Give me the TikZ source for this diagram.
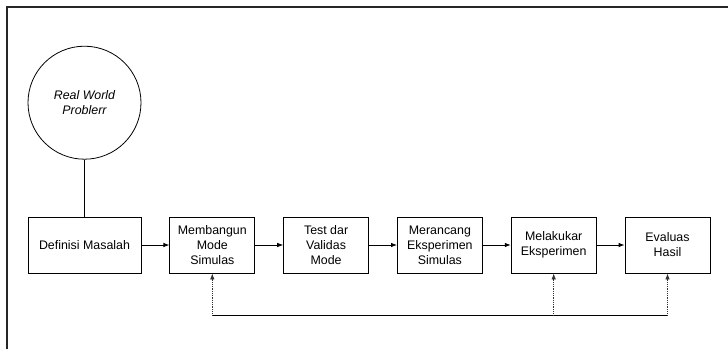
\documentclass[tikz,border=0pt]{standalone}
\usepackage{fontspec}
\setmainfont{Liberation Sans}
\usetikzlibrary{arrows.meta,positioning}
\tikzset{
  stepbox/.style={draw=black,fill=white,minimum width=85pt,minimum height=56pt,align=center,inner sep=1pt,font=\fontsize{12.4}{15}\selectfont,line width=0.8pt},
  problem/.style={draw=black,circle,minimum size=113pt,align=center,inner sep=1pt,font=\fontsize{12.4}{15}\selectfont\itshape,line width=0.8pt},
  line/.style={-{Latex[length=6pt,width=4.5pt]},draw=black,line width=0.8pt},
  backline/.style={-{Latex[length=6pt,width=4.5pt]},draw=black!80,line width=0.8pt,densely dotted},
  frame/.style={draw=black!85,line width=1.6pt}
}
\begin{document}
\begin{tikzpicture}[x=1pt,y=-1pt,node distance=28pt]
  \useasboundingbox (0,0) rectangle (728,349);
  \draw[frame] (7,349) -- (7,7) -- (728,7);
  % main chain
  \node[stepbox,minimum width=113pt] (defin) at (84.5,245) {Definisi Masalah};
  \node[stepbox,right=of defin] (bangun) {Membangun\\Mode\\Simulas};
  \node[stepbox,right=of bangun] (valid) {Test dar\\Validas\\Mode};
  \node[stepbox,right=of valid] (rancang) {Merancang\\Eksperimen\\Simulas};
  \node[stepbox,right=of rancang] (lakukan) {Melakukar\\Eksperimen};
  \node[stepbox,right=of lakukan] (eval) {Evaluas\\Hasil};
  \node[problem,above=57pt of defin] (real) {Real World\\Problerr};
  \draw[line width=0.8pt] (real) -- (defin);
  \draw[line] (defin) -- (bangun);
  \draw[line] (bangun) -- (valid);
  \draw[line] (valid) -- (rancang);
  \draw[line] (rancang) -- (lakukan);
  \draw[line] (lakukan) -- (eval);
  % feedback
  \coordinate[below=42pt of bangun.south] (fb);
  \draw[line width=0.8pt] (fb) -- (eval.south |- fb);
  \draw[backline] (fb) -- (bangun);
  \draw[backline] (lakukan.south |- fb) -- (lakukan);
  \draw[backline] (eval.south |- fb) -- (eval);
\end{tikzpicture}
\end{document}
